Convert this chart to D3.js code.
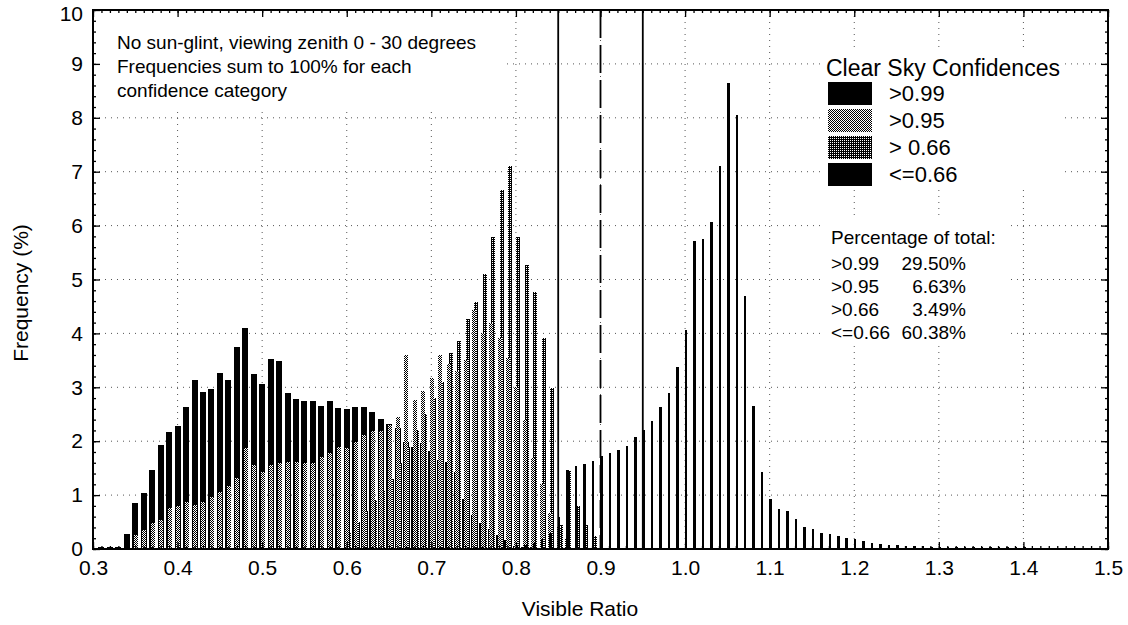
<!DOCTYPE html>
<html>
<head>
<meta charset="utf-8">
<script src="https://cdn.jsdelivr.net/npm/d3@7"></script>
<style>
  body { margin: 0; background: #fff; }
  svg text { font-family: "Liberation Sans", Arial, sans-serif; fill: #000; }
</style>
</head>
<body>
<svg id="chart" width="1128" height="625"></svg>
<script>
// histogram bins are 0.01 wide, each series starts at its own bin
const clear99Start = 0.31;
const clear99 = [0.03, 0.03, 0.04, 0.28, 0.85, 1.03, 1.47, 1.93, 2.17, 2.28,
  2.64, 3.14, 2.91, 2.97, 3.27, 3.14, 3.75, 4.10, 3.25, 3.06,
  3.53, 3.49, 2.89, 2.79, 2.74, 2.74, 2.65, 2.74, 2.61, 2.59,
  2.64, 2.63, 2.54, 2.41, 2.31, 2.24, 1.99, 1.90, 1.96, 1.82,
  1.65, 1.62, 1.42, 0.92, 0.63, 0.48, 0.37, 0.26, 0.17, 0.06,
  0.04, 0.03, 0.02];

const clear95Start = 0.35;
const clear95 = [0.26, 0.35, 0.48, 0.54, 0.76, 0.79, 0.88, 0.82, 0.88, 0.97,
  1.06, 1.16, 1.31, 1.87, 1.56, 1.43, 1.56, 1.59, 1.62, 1.62,
  1.60, 1.60, 1.71, 1.78, 1.90, 1.87, 1.99, 2.11, 2.18, 2.18,
  2.30, 2.45, 3.60, 2.76, 2.94, 3.17, 3.60, 3.44, 3.30, 3.50,
  4.43, 4.00, 4.20, 3.91, 3.54, 3.00, 2.39, 1.68, 1.20, 0.67,
  0.41, 0.20];

const prob66Start = 0.60;
const prob66 = [0.30, 0.50, 0.70, 0.90, 1.10, 1.30, 1.60, 1.90, 2.20, 2.50,
  2.80, 3.10, 3.63, 3.85, 4.27, 4.59, 5.11, 5.79, 6.66, 7.11,
  5.78, 5.27, 4.77, 3.92, 2.98, 0.45, 1.45, 0.80, 0.45, 0.25];

const cloudyStart = 0.80;
const cloudy = [0.05, 0.08, 0.12, 0.18, 0.30, 0.60, 1.47, 1.54, 1.58, 1.64,
  1.72, 1.79, 1.84, 1.92, 2.07, 2.20, 2.37, 2.63, 2.90, 3.37,
  4.06, 5.72, 5.75, 6.07, 7.11, 8.65, 8.05, 4.69, 2.65, 1.43,
  0.93, 0.75, 0.70, 0.56, 0.41, 0.37, 0.30, 0.28, 0.24, 0.20,
  0.18, 0.14, 0.11, 0.09, 0.08, 0.07, 0.06, 0.05, 0.05, 0.04,
  0.04, 0.03, 0.03, 0.03, 0.03, 0.03, 0.03, 0.03, 0.03, 0.03,
  0.03, 0.02, 0.02, 0.02, 0.02, 0.02, 0.02, 0.02, 0.02, 0.02];

const legendLabels = ['>0.99', '>0.95', '> 0.66', '<=0.66'];
const pctLabels = ['>0.99', '>0.95', '>0.66', '<=0.66'];
const pctValues = ['29.50%', '6.63%', '3.49%', '60.38%'];
const notes = ['No sun-glint, viewing zenith 0 - 30 degrees',
  'Frequencies sum to 100% for each', 'confidence category'];
const xTicks = [0.3, 0.4, 0.5, 0.6, 0.7, 0.8, 0.9, 1.0, 1.1, 1.2, 1.3, 1.4, 1.5];
const yTicks = [0, 1, 2, 3, 4, 5, 6, 7, 8, 9, 10];
const thresholds = [0.85, 0.9, 0.95];

const svg = d3.select('#chart');
const pLeft = 93, pRight = 1108, pTop = 10, pBottom = 549;

const x = d3.scaleLinear().domain([0.3, 1.5]).range([pLeft, pRight]);
const y = d3.scaleLinear().domain([0, 10]).range([pBottom, pTop]);

// fill patterns for the two shaded categories
const defs = svg.append('defs');
const light = defs.append('pattern').attr('id', 'light')
  .attr('width', 2).attr('height', 2).attr('patternUnits', 'userSpaceOnUse');
light.append('rect').attr('width', 2).attr('height', 2).attr('fill', '#fff');
light.append('rect').attr('width', 1).attr('height', 1).attr('fill', '#000');
light.append('rect').attr('x', 1).attr('y', 1).attr('width', 1).attr('height', 1).attr('fill', '#000');
const dark = defs.append('pattern').attr('id', 'dark')
  .attr('width', 2).attr('height', 2).attr('patternUnits', 'userSpaceOnUse');
dark.append('rect').attr('width', 2).attr('height', 2).attr('fill', '#000');
dark.append('rect').attr('width', 1).attr('height', 1).attr('fill', '#fff');

const fills = ['#000', 'url(#light)', 'url(#dark)', '#000'];

// dotted grid
const grid = svg.append('g').attr('stroke', '#555').attr('stroke-width', 1)
  .attr('stroke-dasharray', '1 5');
grid.selectAll('.gy').data(yTicks.slice(1, -1)).enter().append('line')
  .attr('x1', pLeft).attr('x2', pRight).attr('y1', d => y(d)).attr('y2', d => y(d));
grid.selectAll('.gx').data(xTicks.slice(1, -1)).enter().append('line')
  .attr('y1', pTop).attr('y2', pBottom).attr('x1', d => x(d)).attr('x2', d => x(d));

// white panels behind the text blocks
svg.append('rect').attr('x', 95).attr('y', 12).attr('width', 410).attr('height', 96).attr('fill', '#fff');
svg.append('rect').attr('x', 822).attr('y', 50).attr('width', 243).attr('height', 140).attr('fill', '#fff');
svg.append('rect').attr('x', 822).attr('y', 220).attr('width', 185).attr('height', 125).attr('fill', '#fff');

// bars: wide black, dark, light, thin black (offsets inside each bin)
const series = [
  { start: clear99Start, vals: clear99, fill: fills[0], dx0: -3, dx1: 3 },
  { start: prob66Start, vals: prob66, fill: fills[2], dx0: 0.5, dx1: 4.5 },
  { start: clear95Start, vals: clear95, fill: fills[1], dx0: -1.5, dx1: 2.5 },
  { start: cloudyStart, vals: cloudy, fill: fills[3], dx0: -0.3, dx1: 2.2 }
];
series.forEach(s => {
  svg.append('g').selectAll('rect')
    .data(s.vals.map((v, i) => ({ bin: Math.round(s.start * 100 + i) / 100, v })))
    .enter().append('rect')
    .attr('x', d => x(d.bin) + s.dx0)
    .attr('width', s.dx1 - s.dx0)
    .attr('y', d => y(d.v))
    .attr('height', d => y(0) - y(d.v))
    .attr('fill', s.fill)
    .attr('shape-rendering', 'crispEdges');
});

// threshold lines
svg.append('g').selectAll('line').data(thresholds).enter().append('line')
  .attr('x1', d => x(d)).attr('x2', d => x(d))
  .attr('y1', pTop).attr('y2', pBottom)
  .attr('stroke', '#000').attr('stroke-width', 1.8)
  .attr('stroke-dasharray', d => d === 0.9 ? '28 7' : null);

// axes, ticks pointing inwards
function styleAxis(g, size) {
  g.select('.domain').remove();
  g.selectAll('line').attr('stroke', '#000').attr('stroke-width', 1.3);
  g.selectAll('text').style('font-size', size + 'px');
}
const xMinor = d3.range(30, 151).map(d => d / 100);
const yMinor = d3.range(0, 51).map(d => d / 5);

svg.append('g').attr('transform', `translate(0,${pBottom})`)
  .call(d3.axisBottom(x).tickValues(xTicks).tickFormat(d3.format('.1f'))
    .tickSizeInner(-7).tickSizeOuter(0).tickPadding(11))
  .call(g => styleAxis(g, 21));
svg.append('g').attr('transform', `translate(0,${pBottom})`)
  .call(d3.axisBottom(x).tickValues(xMinor).tickFormat('').tickSizeInner(-3).tickSizeOuter(0))
  .call(g => styleAxis(g, 21));
svg.append('g').attr('transform', `translate(0,${pTop})`)
  .call(d3.axisTop(x).tickValues(xTicks).tickFormat('').tickSizeInner(-7).tickSizeOuter(0))
  .call(g => styleAxis(g, 21));
svg.append('g').attr('transform', `translate(0,${pTop})`)
  .call(d3.axisTop(x).tickValues(xMinor).tickFormat('').tickSizeInner(-3).tickSizeOuter(0))
  .call(g => styleAxis(g, 21));
svg.append('g').attr('transform', `translate(${pLeft},0)`)
  .call(d3.axisLeft(y).tickValues(yTicks).tickFormat(d3.format('d'))
    .tickSizeInner(-7).tickSizeOuter(0).tickPadding(10))
  .call(g => styleAxis(g, 21))
  // the top label sits a little lower so it stays inside the page
  .call(g => g.selectAll('.tick text').filter(d => d === 10).attr('y', 4));
svg.append('g').attr('transform', `translate(${pLeft},0)`)
  .call(d3.axisLeft(y).tickValues(yMinor).tickFormat('').tickSizeInner(-3).tickSizeOuter(0))
  .call(g => styleAxis(g, 21));
svg.append('g').attr('transform', `translate(${pRight},0)`)
  .call(d3.axisRight(y).tickValues(yTicks).tickFormat('').tickSizeInner(-7).tickSizeOuter(0))
  .call(g => styleAxis(g, 21));
svg.append('g').attr('transform', `translate(${pRight},0)`)
  .call(d3.axisRight(y).tickValues(yMinor).tickFormat('').tickSizeInner(-3).tickSizeOuter(0))
  .call(g => styleAxis(g, 21));

svg.append('rect').attr('x', pLeft).attr('y', pTop)
  .attr('width', pRight - pLeft).attr('height', pBottom - pTop)
  .attr('fill', 'none').attr('stroke', '#000').attr('stroke-width', 2);

// axis titles
svg.append('text').attr('x', 580).attr('y', 616).attr('text-anchor', 'middle')
  .style('font-size', '21px').text('Visible Ratio');
svg.append('text').attr('transform', 'translate(28,293) rotate(-90)')
  .attr('text-anchor', 'middle').style('font-size', '21px').text('Frequency (%)');

// note in the top left corner
svg.append('g').selectAll('text').data(notes).enter().append('text')
  .attr('x', 117).attr('y', (d, i) => 49 + i * 24)
  .style('font-size', '19px').text(d => d);

// legend
const legend = svg.append('g');
legend.append('text').attr('x', 826).attr('y', 76).style('font-size', '23px')
  .text('Clear Sky Confidences');
legend.selectAll('rect').data(legendLabels).enter().append('rect')
  .attr('x', 828).attr('y', (d, i) => 82 + i * 27)
  .attr('width', 44).attr('height', 23)
  .attr('fill', (d, i) => fills[i]).attr('shape-rendering', 'crispEdges');
legend.selectAll('.lab').data(legendLabels).enter().append('text')
  .attr('x', 889).attr('y', (d, i) => 101 + i * 27)
  .style('font-size', '22px').text(d => d);

// percentage of total block
const pct = svg.append('g').style('font-size', '19px');
pct.append('text').attr('x', 831).attr('y', 244).text('Percentage of total:');
pct.selectAll('.pl').data(pctLabels).enter().append('text')
  .attr('x', 831).attr('y', (d, i) => 270 + i * 23).text(d => d);
pct.selectAll('.pv').data(pctValues).enter().append('text')
  .attr('x', 966).attr('y', (d, i) => 270 + i * 23)
  .attr('text-anchor', 'end').text(d => d);
</script>
</body>
</html>
